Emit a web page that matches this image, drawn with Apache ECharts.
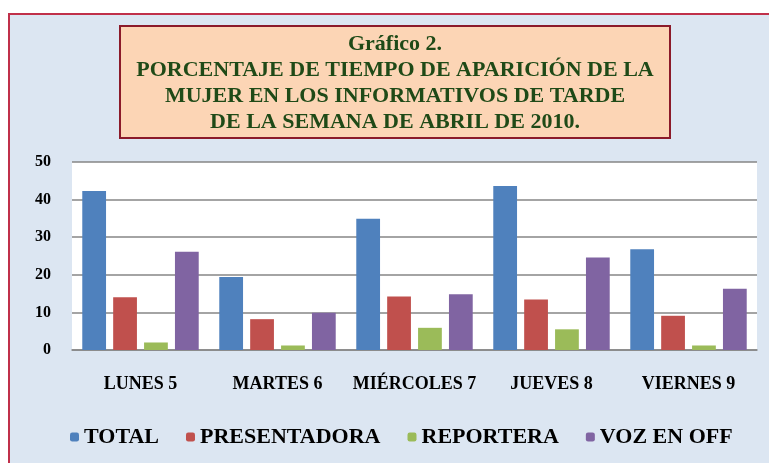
<!DOCTYPE html>
<html>
<head>
<meta charset="utf-8">
<script src="https://cdn.jsdelivr.net/npm/echarts@6/dist/echarts.min.js"></script>
<style>
  html, body { margin: 0; padding: 0; background: #fff; }
  #chart { width: 769px; height: 463px; }
</style>
</head>
<body>
<div id="chart"></div>
<script>
// categorías y valores (%)
const dias = ['LUNES 5', 'MARTES 6', 'MIÉRCOLES 7', 'JUEVES 8', 'VIERNES 9'];
const total = [42.3, 19.4, 34.9, 43.6, 26.8];
const presentadora = [14.0, 8.2, 14.2, 13.4, 9.1];
const reportera = [2.0, 1.2, 5.9, 5.5, 1.2];
const vozEnOff = [26.1, 9.9, 14.8, 24.6, 16.3];

const serif = '"Liberation Serif", "DejaVu Serif", serif';

const chart = echarts.init(document.getElementById('chart'));
chart.setOption({
  animation: false,
  color: ['#4F81BD', '#C0504D', '#9BBB59', '#8064A2'],
  graphic: [
    {
      type: 'rect',
      z: -10,
      silent: true,
      shape: { x: 9, y: 14, width: 800, height: 500 },
      style: { fill: '#dce6f2', stroke: '#c0304a', lineWidth: 2 },
    },
    {
      type: 'rect',
      z: -5,
      silent: true,
      shape: { x: 120, y: 26, width: 550, height: 112 },
      style: { fill: '#fcd5b5', stroke: '#8b1a2a', lineWidth: 2 },
    },
  ],
  title: {
    text: 'Gráfico 2.\nPORCENTAJE DE TIEMPO DE APARICIÓN DE LA\nMUJER EN LOS INFORMATIVOS DE TARDE\nDE LA SEMANA DE ABRIL DE 2010.',
    left: 395,
    top: 31,
    textAlign: 'center',
    padding: 0,
    textStyle: {
      fontFamily: serif,
      fontWeight: 'bold',
      fontSize: 22,
      lineHeight: 26,
      color: '#1f4a17',
    },
  },
  legend: {
    data: ['TOTAL', 'PRESENTADORA', 'REPORTERA', 'VOZ EN OFF'],
    bottom: 10,
    left: 65,
    itemWidth: 9,
    itemHeight: 9,
    itemGap: 27,
    textStyle: {
      fontFamily: serif,
      fontWeight: 'bold',
      fontSize: 22,
      color: '#000',
    },
  },
  grid: {
    left: 72,
    right: 12,
    top: 162,
    bottom: 113,
    show: true,
    backgroundColor: '#fff',
    borderWidth: 0,
  },
  xAxis: {
    type: 'category',
    data: dias,
    axisLine: { lineStyle: { color: '#868686', width: 1.5 } },
    axisTick: { show: false },
    axisLabel: {
      interval: 0,
      margin: 25,
      fontFamily: serif,
      fontWeight: 'bold',
      fontSize: 18,
      color: '#000',
    },
  },
  yAxis: {
    type: 'value',
    min: 0,
    max: 50,
    interval: 10,
    axisLine: { show: false },
    axisTick: { show: false },
    splitLine: { lineStyle: { color: '#868686', width: 1.5 } },
    axisLabel: {
      margin: 21,
      fontFamily: serif,
      fontWeight: 'bold',
      fontSize: 16,
      color: '#000',
    },
  },
  series: [
    { name: 'TOTAL', type: 'bar', data: total, barGap: '30%', barCategoryGap: '15%' },
    { name: 'PRESENTADORA', type: 'bar', data: presentadora },
    { name: 'REPORTERA', type: 'bar', data: reportera },
    { name: 'VOZ EN OFF', type: 'bar', data: vozEnOff },
  ],
});
</script>
</body>
</html>
